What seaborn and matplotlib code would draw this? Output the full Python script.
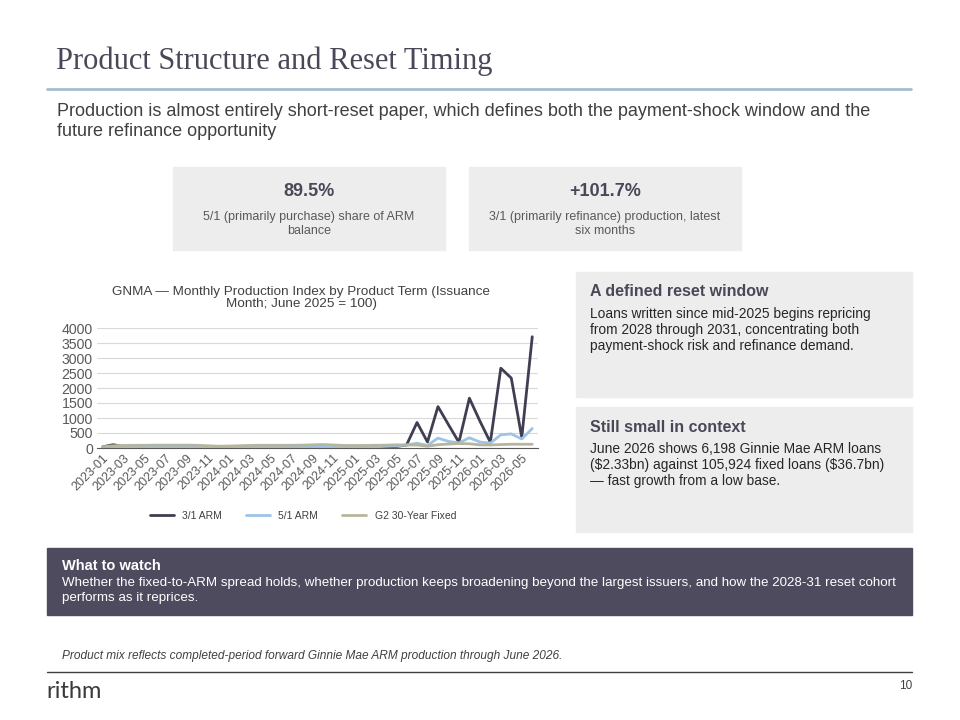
import pandas as pd
import matplotlib.pyplot as plt
import seaborn as sns
from matplotlib.patches import Rectangle
from matplotlib.lines import Line2D

# --- Data (index, June 2025 = 100) ---
months = pd.date_range("2023-01-01", periods=42, freq="MS").strftime("%Y-%m").tolist()

arm_31 = [40, 110, 45, 35, 35, 30, 30, 30, 30, 30, 25, 25, 25, 25, 30,
          30, 30, 30, 30, 30, 30, 30, 30, 30, 35, 35, 40, 45, 50, 100,
          850, 200, 1380, 780, 190, 1660, 900, 190, 2660, 2330, 350, 3710]
arm_51 = [20, 20, 20, 20, 20, 20, 20, 20, 20, 20, 20, 20, 20, 20, 20,
          20, 20, 20, 20, 20, 25, 25, 25, 30, 30, 35, 40, 55, 70, 100,
          160, 85, 330, 220, 170, 340, 200, 160, 440, 470, 300, 650]
g2_fixed = [40, 75, 85, 90, 90, 95, 95, 95, 95, 90, 75, 60, 65, 75, 85,
            90, 90, 90, 90, 95, 105, 115, 100, 85, 85, 85, 90, 95, 105, 100,
            100, 60, 110, 130, 150, 140, 105, 100, 115, 125, 125, 125]

series_names = ["3/1 ARM", "5/1 ARM", "G2 30-Year Fixed"]
series_colors = ["#403E52", "#9DC3E6", "#B7B59E"]

df = pd.DataFrame({"idx": range(len(months)), "month": months,
                   "3/1 ARM": arm_31, "5/1 ARM": arm_51, "G2 30-Year Fixed": g2_fixed})
long = df.melt(id_vars=["idx", "month"], var_name="product", value_name="index")

sns.set_theme(style="white")
plt.rcParams["font.family"] = ["Liberation Sans", "DejaVu Sans"]

W, H = 960, 720
fig = plt.figure(figsize=(9.6, 7.2), dpi=100)

def fx(px):
    return px / W

def fy(py):
    return 1 - py / H

def box(x0, y0, x1, y1, color):
    fig.patches.append(Rectangle((fx(x0), fy(y1)), fx(x1 - x0), (y1 - y0) / H,
                                 transform=fig.transFigure, color=color, zorder=0))

txt_dark = "#4A4858"
txt_body = "#404040"

# --- Header ---
fig.text(fx(56), fy(61), "Product Structure and Reset Timing", fontsize=22,
         family=["Liberation Serif", "DejaVu Serif"], color=txt_dark, va="center")
fig.add_artist(Line2D([fx(47), fx(911)], [fy(89), fy(89)], color="#A5BDD0", lw=2))
fig.text(fx(57), fy(112), "Production is almost entirely short-reset paper, which defines both the payment-shock window and the",
         fontsize=13, color=txt_body, va="center")
fig.text(fx(57), fy(132), "future refinance opportunity", fontsize=13, color=txt_body, va="center")

# --- KPI boxes ---
kpis = [(173, 445, "89.5%", "5/1 (primarily purchase) share of ARM\nbalance"),
        (469, 741, "+101.7%", "3/1 (primarily refinance) production, latest\nsix months")]
for x0, x1, big, desc in kpis:
    box(x0, 167, x1, 250, "#EDEDED")
    cx = fx((x0 + x1) / 2)
    fig.text(cx, fy(191), big, fontsize=13, fontweight="bold", color=txt_dark, ha="center", va="center")
    fig.text(cx, fy(224), desc, fontsize=9, color="#595959", ha="center", va="center", linespacing=1.3)

# --- Right panels ---
panels = [(272, 397, "A defined reset window",
           "Loans written since mid-2025 begins repricing\nfrom 2028 through 2031, concentrating both\npayment-shock risk and refinance demand."),
          (407, 532, "Still small in context",
           "June 2026 shows 6,198 Ginnie Mae ARM loans\n(\\$2.33bn) against 105,924 fixed loans (\\$36.7bn)\n\u2014 fast growth from a low base.")]
for y0, y1, head, body in panels:
    box(576, y0, 912, y1, "#EDEDED")
    fig.text(fx(590), fy(y0 + 20), head, fontsize=11.5, fontweight="bold", color=txt_dark, va="center")
    fig.text(fx(590), fy(y0 + 35), body, fontsize=9.9, color="#262626", va="top", linespacing=1.17)

# --- What to watch ---
box(47, 548, 912, 615, "#4E4B5E")
fig.text(fx(62), fy(566), "What to watch", fontsize=10.5, fontweight="bold", color="white", va="center")
fig.text(fx(62), fy(577), "Whether the fixed-to-ARM spread holds, whether production keeps broadening beyond the largest issuers, and how the 2028-31 reset cohort\nperforms as it reprices.",
         fontsize=9.6, color="white", va="top", linespacing=1.28)

# --- Footer ---
fig.text(fx(62), fy(656), "Product mix reflects completed-period forward Ginnie Mae ARM production through June 2026.",
         fontsize=8.6, style="italic", color=txt_body, va="center")
fig.add_artist(Line2D([fx(47), fx(912)], [fy(672), fy(672)], color="#404040", lw=1))
fig.text(fx(46), fy(692), "rithm", fontsize=17, family=["Lato", "Liberation Sans"],
         color="#3A3A3A", va="center")
fig.text(fx(912), fy(686), "10", fontsize=8.5, color=txt_body, ha="right", va="center")

# --- Chart ---
ax = fig.add_axes([fx(97), fy(448), fx(538 - 97), 120 / H])
sns.lineplot(data=long, x="idx", y="index", hue="product", hue_order=series_names,
             palette=series_colors, linewidth=2.0, ax=ax, legend=False)
ax.set_xlim(-0.55, len(months) - 0.45)
ax.set_ylim(0, 4000)
ax.set_yticks(range(0, 4001, 500))
ax.set_yticklabels([str(v) for v in range(0, 4001, 500)], fontsize=10.2, color="#595959")
ax.set_xticks(range(0, len(months), 2))
ax.set_xticklabels(months[::2], rotation=45, ha="right", rotation_mode="anchor",
                   fontsize=9, color="#595959")
ax.tick_params(axis="both", length=0, pad=3)
ax.grid(axis="y", color="#D9D9D9", lw=0.8)
ax.set_axisbelow(True)
for s in ["top", "right", "left"]:
    ax.spines[s].set_visible(False)
ax.spines["bottom"].set_color("#595959")
ax.spines["bottom"].set_linewidth(0.8)
ax.set_xlabel("")
ax.set_ylabel("")

fig.text(fx(301), fy(298), "GNMA \u2014 Monthly Production Index by Product Term (Issuance\nMonth; June 2025 = 100)",
         fontsize=9.7, color="#404040", ha="center", va="center", linespacing=1.05)

handles = [Line2D([0], [0], color=c, lw=2.0) for c in series_colors]
fig.legend(handles, series_names, loc="center", bbox_to_anchor=(fx(303), fy(516)), ncol=3,
           frameon=False, fontsize=7.5, handlelength=2.3, columnspacing=2.3, labelcolor="#404040")

fig.savefig("out.png", dpi=100)
